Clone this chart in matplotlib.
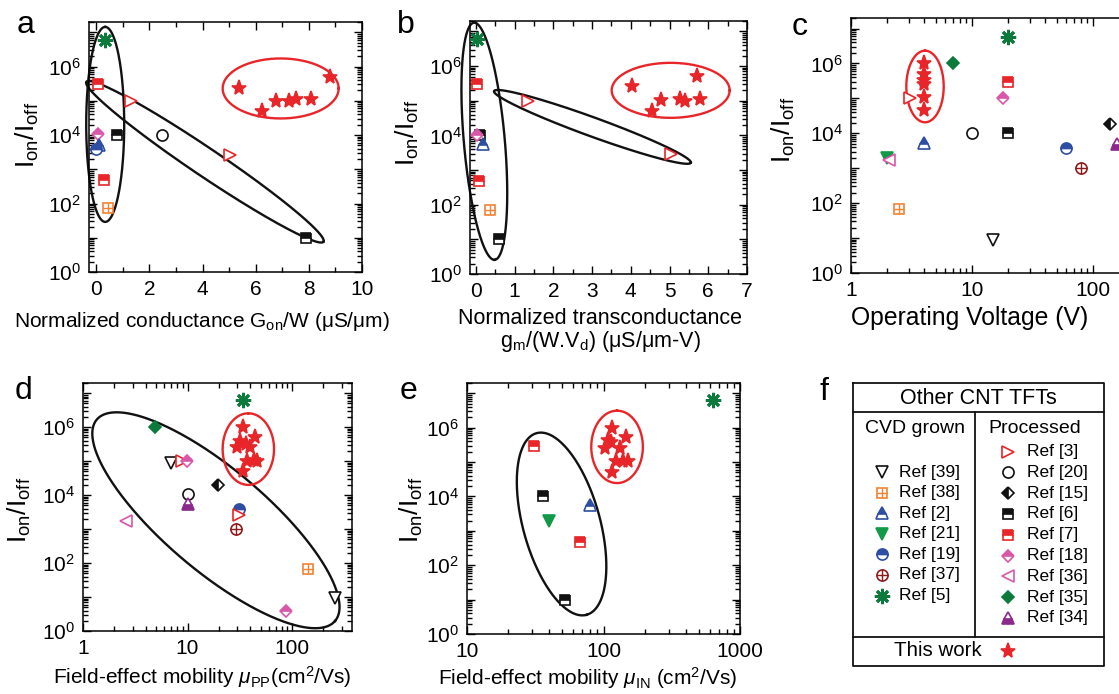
import numpy as np
import matplotlib
matplotlib.use('Agg')
import matplotlib.pyplot as plt
from matplotlib.ticker import LogLocator, FuncFormatter, MultipleLocator, NullFormatter

plt.rcParams['font.family'] = ['Liberation Sans', 'DejaVu Sans']
plt.rcParams['mathtext.fontset'] = 'custom'
plt.rcParams['mathtext.rm'] = 'Liberation Sans'
plt.rcParams['mathtext.it'] = 'Liberation Sans:italic'
plt.rcParams['mathtext.bf'] = 'Liberation Sans:bold'
plt.rcParams['axes.linewidth'] = 1.1

# ---------------- data ----------------
# panel a : normalized conductance
A_REFS = ['5', '7', '3', '18', '2', '19', '6', '7', '38', '20', '3', '6']
A_X = [0.35, 0.05, 1.30, 0.05, 0.09, -0.01, 0.78, 0.31, 0.43, 2.48, 5.03, 7.89]
A_Y = [6e6, 3e5, 1e5, 1.1e4, 5e3, 4e3, 1e4, 480, 72, 1e4, 2.7e3, 10]
A_STAR_X = [5.37, 6.23, 6.77, 7.27, 7.50, 8.10, 8.79]
A_STAR_Y = [2.4e5, 4.9e4, 1e5, 1e5, 1.15e5, 1.1e5, 4.9e5]

# panel b : normalized transconductance
B_REFS = ['5', '7', '3', '6', '18', '2', '7', '38', '6', '3']
B_X = [0.04, 0.04, 1.36, 0.10, 0.03, 0.19, 0.08, 0.36, 0.60, 5.03]
B_Y = [6e6, 3e5, 1e5, 1e4, 1e4, 5.6e3, 490, 70, 10, 2.9e3]
B_STAR_X = [4.02, 4.55, 4.77, 5.27, 5.40, 5.78, 5.72]
B_STAR_Y = [2.6e5, 5e4, 1.07e5, 1.15e5, 1e5, 1.15e5, 5.1e5]

# panel c : operating voltage
C_REFS = ['5', '35', '7', '18', '3', '20', '6', '2', '21', '36', '38', '39', '19', '37', '15', '34']
C_X = [20, 7, 20, 18, 3.07, 10, 20, 4, 2, 2.05, 2.5, 15, 60, 80, 138, 157]
C_Y = [5.6e6, 1e6, 2.9e5, 1e5, 1e5, 1e4, 1e4, 5.3e3, 1.9e3, 1.7e3, 66, 9, 3.9e3, 1e3, 1.9e4, 5.1e3]
C_STAR_X = [4.04, 4.04, 4.04, 4.04, 4.04, 4.04]
C_STAR_Y = [1e6, 4.9e5, 3.4e5, 2.6e5, 1.1e5, 4.8e4]

# panel d : field-effect mobility (parallel plate)
D_REFS = ['5', '35', '39', '3', '18', '15', '20', '34', '36', '19', '3', '37', '38', '39', '18']
D_X = [34, 4.9, 6.9, 8.8, 9.8, 19.7, 10, 10, 2.6, 31, 31, 29, 143, 257, 87]
D_Y = [6.4e6, 1e6, 9e4, 1e5, 1e5, 1.95e4, 1.05e4, 5.4e3, 1.7e3, 4e3, 2.6e3, 1e3, 67, 9.3, 4]
D_STAR_X = [34, 44, 32, 36, 30, 40, 37, 43, 46, 34]
D_STAR_Y = [1e6, 5e5, 4e5, 3.2e5, 2.6e5, 2.6e5, 1e5, 1.1e5, 1e5, 5e4]

# panel e : field-effect mobility (intrinsic)
E_REFS = ['5', '7', '6', '2', '21', '7', '6']
E_X = [634, 31, 36, 79, 40, 67, 52]
E_Y = [6.2e6, 3e5, 1e4, 5.5e3, 1.9e3, 480, 10]
E_STAR_X = [116, 147, 108, 113, 103, 132, 124, 139, 151, 116]
E_STAR_Y = [1e6, 5.3e5, 4.5e5, 3.8e5, 2.6e5, 2.6e5, 1.1e5, 1.1e5, 1.1e5, 5e4]

# legend
CVD_REFS = ['39', '38', '2', '21', '19', '37', '5']
PROC_REFS = ['3', '20', '15', '6', '7', '18', '36', '35', '34']

# ---------------- styles ----------------
RED = '#e8262a'; BLACK = '#111111'; BLUE = '#2d4ea2'; GREEN = '#13994a'
DGREEN = '#0b7a3b'; ORANGE = '#f28232'; PINK = '#d957a8'; PURPLE = '#8c2a8c'
DRED = '#8e1b1b'

STYLES = {
    '39': dict(m='v', c=BLACK, fill='none', ms=9),
    '38': dict(m='s', c=ORANGE, fill='none', ms=7, over='+'),
    '2': dict(m='^', c=BLUE, fill='top', ms=9),
    '21': dict(m='v', c=GREEN, fill='full', ms=9),
    '19': dict(m='o', c=BLUE, fill='top', ms=8),
    '37': dict(m='o', c=DRED, fill='none', ms=8, over='+'),
    '5': dict(m=(8, 2, 0), c=DGREEN, fill='line', ms=11),
    '3': dict(m='>', c=RED, fill='none', ms=9),
    '20': dict(m='o', c=BLACK, fill='none', ms=8),
    '15': dict(m='D', c=BLACK, fill='left', ms=6.5),
    '6': dict(m='s', c=BLACK, fill='top', ms=7),
    '7': dict(m='s', c=RED, fill='top', ms=7),
    '18': dict(m='D', c=PINK, fill='top', ms=6.5),
    '36': dict(m='<', c=PINK, fill='none', ms=9),
    '35': dict(m='D', c=DGREEN, fill='full', ms=6.5),
    '34': dict(m='^', c=PURPLE, fill='bottom', ms=9),
    'star': dict(m='*', c=RED, fill='full', ms=11),
}

W, H = 1119, 694
fig = plt.figure(figsize=(W / 100, H / 100), dpi=100)


def add_ax(l, t, r, b):
    return fig.add_axes([l / W, 1 - b / H, (r - l) / W, (b - t) / H])


def draw(ax, ref, x, y, scale=1.0, clip=True):
    st = STYLES[ref]
    kw = dict(linestyle='none', marker=st['m'], markersize=st['ms'] * scale,
              markeredgecolor=st['c'], markeredgewidth=1.2, clip_on=clip, zorder=3)
    if st['fill'] == 'none':
        kw.update(markerfacecolor='white')
    elif st['fill'] == 'line':
        kw.update(markeredgewidth=2.0)
    elif st['fill'] == 'full':
        kw.update(markerfacecolor=st['c'])
    else:
        kw.update(markerfacecolor=st['c'], fillstyle=st['fill'], markerfacecoloralt='white')
    ax.plot(x, y, **kw)
    if 'over' in st:
        ax.plot(x, y, linestyle='none', marker=st['over'], markersize=st['ms'] * scale,
                markeredgecolor=st['c'], markeredgewidth=1.0, clip_on=clip, zorder=4)


def draw_all(ax, refs, xs, ys, sx, sy):
    for r, x, y in zip(refs, xs, ys):
        draw(ax, r, [x], [y])
    draw(ax, 'star', sx, sy)


def ellipse(ax, cx, cy, a_px, b_px, ang, color):
    c = ax.transData.transform((cx, cy))
    t = np.linspace(0, 2 * np.pi, 500)
    th = np.deg2rad(ang)
    px = c[0] + a_px * np.cos(t) * np.cos(th) - b_px * np.sin(t) * np.sin(th)
    py = c[1] + a_px * np.cos(t) * np.sin(th) + b_px * np.sin(t) * np.cos(th)
    d = ax.transData.inverted().transform(np.column_stack([px, py]))
    ax.plot(d[:, 0], d[:, 1], color=color, lw=1.7, clip_on=False, zorder=2)


def ylog(ax):
    ax.set_yscale('log')
    ax.set_ylim(1, 2e7)
    ax.yaxis.set_major_locator(LogLocator(base=10, numticks=20))
    ax.yaxis.set_minor_locator(LogLocator(base=10, subs=np.arange(2, 10), numticks=20))

    def fmt(v, p):
        e = int(round(np.log10(v)))
        return r'$\mathdefault{10^{%d}}$' % e if e % 2 == 0 else ''
    ax.yaxis.set_major_formatter(FuncFormatter(fmt))
    ax.yaxis.set_minor_formatter(NullFormatter())


def xlog(ax, lo, hi):
    ax.set_xscale('log')
    ax.set_xlim(lo, hi)
    ax.xaxis.set_major_locator(LogLocator(base=10, numticks=20))
    ax.xaxis.set_minor_locator(LogLocator(base=10, subs=np.arange(2, 10), numticks=20))
    ax.xaxis.set_major_formatter(FuncFormatter(lambda v, p: '%d' % int(round(v))))
    ax.xaxis.set_minor_formatter(NullFormatter())


def style(ax):
    ax.tick_params(which='both', direction='in', top=True, right=True, labelsize=15, width=1.0)
    ax.tick_params(which='major', length=6, pad=6)
    ax.tick_params(which='minor', length=3.5)
    ax.set_autoscale_on(False)


def ylabel(ax, xpx, ypx):
    fig.text(xpx / W, 1 - ypx / H, r'I$_{\rm on}$/I$_{\rm off}$', rotation=90,
             ha='center', va='center', fontsize=19)


# ---------------- panel a ----------------
axa = add_ax(89, 22, 362, 272)
axa.set_xlim(-0.27, 10)
axa.xaxis.set_major_locator(MultipleLocator(2))
axa.xaxis.set_minor_locator(MultipleLocator(1))
ylog(axa); style(axa)
draw_all(axa, A_REFS, A_X, A_Y, A_STAR_X, A_STAR_Y)
ellipse(axa, 0.34, 10 ** 4.31, 97.5, 19, 90, BLACK)
ellipse(axa, 4.09, 10 ** 3.22, 143, 14, -34, BLACK)
ellipse(axa, 6.94, 10 ** 5.36, 58, 30, 0, RED)

# ---------------- panel b ----------------
axb = add_ax(470, 21, 747, 274)
axb.set_xlim(-0.15, 7)
axb.xaxis.set_major_locator(MultipleLocator(1))
axb.xaxis.set_minor_locator(MultipleLocator(0.5))
ylog(axb); style(axb)
draw_all(axb, B_REFS, B_X, B_Y, B_STAR_X, B_STAR_Y)
ellipse(axb, 0.22, 10 ** 3.83, 119, 20.5, -85, BLACK)
ellipse(axb, 3.01, 10 ** 4.245, 104.7, 9.5, -20, BLACK)
ellipse(axb, 5.03, 10 ** 5.30, 59, 27.5, 0, RED)

# ---------------- panel c ----------------
axc = add_ax(851, 18, 851 + 121 * 2.4, 273)
xlog(axc, 1, 10 ** 2.4)
ylog(axc); style(axc)
draw_all(axc, C_REFS, C_X, C_Y, C_STAR_X, C_STAR_Y)
ellipse(axc, 4.09, 10 ** 5.34, 35.8, 18.7, 90, RED)

# ---------------- panel d ----------------
axd = add_ax(83, 383, 352, 631)
xlog(axd, 1, 375)
ylog(axd); style(axd)
draw_all(axd, D_REFS, D_X, D_Y, D_STAR_X, D_STAR_Y)
ellipse(axd, 18.7, 10 ** 3.26, 156, 51, -40.2, BLACK)
ellipse(axd, 38.2, 10 ** 5.355, 35.8, 25.7, 90, RED)

# ---------------- panel e ----------------
axe = add_ax(467, 383, 740, 634)
xlog(axe, 10, 1000)
ylog(axe); style(axe)
draw_all(axe, E_REFS, E_X, E_Y, E_STAR_X, E_STAR_Y)
ellipse(axe, 49.3, 10 ** 3.20, 94.2, 38.5, -74.6, BLACK)
ellipse(axe, 125.7, 10 ** 5.443, 36.2, 25.8, 90, RED)

# ---------------- labels ----------------
ylabel(axa, 27, 135)
ylabel(axb, 407, 133)
ylabel(axc, 783, 130)
ylabel(axd, 19, 510)
ylabel(axe, 411, 510)

fig.text(202 / W, 1 - 322 / H, u'Normalized conductance G$_{\\rm on}$/W (\u03bcS/\u03bcm)',
         ha='center', va='center', fontsize=15)
fig.text(600 / W, 1 - 318 / H, 'Normalized transconductance', ha='center', va='center', fontsize=15.5)
fig.text(600 / W, 1 - 342 / H, u'g$_{\\rm m}$/(W.V$_{\\rm d}$) (\u03bcS/\u03bcm-V)',
         ha='center', va='center', fontsize=15.5)
fig.text(970 / W, 1 - 318 / H, 'Operating Voltage (V)', ha='center', va='center', fontsize=17.8)
fig.text(202 / W, 1 - 677 / H, r'Field-effect mobility $\mu_{\rm PP}$(cm$^{2}$/Vs)',
         ha='center', va='center', fontsize=15)
fig.text(588 / W, 1 - 678 / H, r'Field-effect mobility $\mu_{\rm IN}$ (cm$^{2}$/Vs)',
         ha='center', va='center', fontsize=15)

for letter, xp, yp in [('a', 17, 33), ('b', 397, 33), ('c', 792, 35),
                       ('d', 15, 399), ('e', 400, 399), ('f', 819, 400)]:
    fig.text(xp / W, 1 - yp / H, letter, ha='left', va='baseline', fontsize=23)

# ---------------- legend (panel f) ----------------
lax = fig.add_axes([0, 0, 1, 1])
lax.set_xlim(0, W); lax.set_ylim(H, 0); lax.axis('off')
L, R, T, B = 853, 1104, 383, 666
kw = dict(color=BLACK, lw=1.3)
lax.plot([L, R, R, L, L], [T, T, B, B, T], **kw)
lax.plot([L, R], [412, 412], **kw)
lax.plot([L, R], [637, 637], **kw)
lax.plot([975, 975], [412, 637], **kw)
lax.text(978, 398, 'Other CNT TFTs', ha='center', va='center', fontsize=15.5)
lax.text(915, 428, 'CVD grown', ha='center', va='center', fontsize=14)
lax.text(1035, 428, 'Processed', ha='center', va='center', fontsize=14)
for i, r in enumerate(CVD_REFS):
    y = 472 + i * 20.6
    draw(lax, r, [882], [y], clip=False)
    lax.text(899, y, 'Ref [%s]' % r, ha='left', va='center', fontsize=12.5)
for i, r in enumerate(PROC_REFS):
    y = 451.5 + i * 20.8
    draw(lax, r, [1008], [y], clip=False)
    lax.text(1027, y, 'Ref [%s]' % r, ha='left', va='center', fontsize=12.5)
lax.text(938, 651, 'This work', ha='center', va='center', fontsize=14.8)
draw(lax, 'star', [1008], [651], clip=False)

fig.savefig('out.png', dpi=100)
